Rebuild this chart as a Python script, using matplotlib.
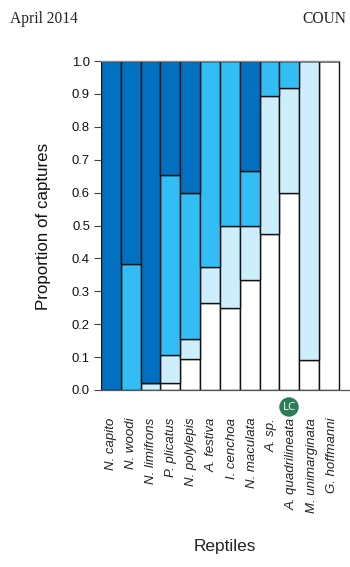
import matplotlib
matplotlib.use("Agg")
import matplotlib.pyplot as plt
from matplotlib.patches import Circle
import numpy as np

plt.rcParams['font.family'] = ['Liberation Sans', 'DejaVu Sans']

species = ["N. capito", "N. woodi", "N. limifrons", "P. plicatus", "N. polylepis", "A. festiva",
           "I. cenchoa", "N. maculata", "A. sp.", "A. quadrilineata", "M. unimarginata", "G. hoffmanni"]
white = [0, 0, 0, 0.02, 0.095, 0.265, 0.25, 0.333, 0.475, 0.60, 0.09, 1.0]
light = [0, 0, 0.02, 0.085, 0.06, 0.11, 0.25, 0.167, 0.42, 0.318, 0.91, 0]
mid   = [0, 0.382, 0, 0.55, 0.445, 0.625, 0.50, 0.167, 0.105, 0.082, 0, 0]
dark  = [1.0, 0.618, 0.98, 0.345, 0.40, 0, 0, 0.333, 0, 0, 0, 0]
yticks = [0.0, 0.1, 0.2, 0.3, 0.4, 0.5, 0.6, 0.7, 0.8, 0.9, 1.0]

W, H = 350, 567
fig = plt.figure(figsize=(W / 100, H / 100), dpi=100, facecolor="white")
left, right, top, bottom = 101, 350, 61, 390
ax = fig.add_axes([left / W, 1 - bottom / H, (right - left) / W, (bottom - top) / H])

x = np.arange(len(species))
base = np.zeros(len(species))
for vals, col in zip([white, light, mid, dark], ["#ffffff", "#cdeffb", "#33bdf5", "#0270c0"]):
    v = np.array(vals)
    ax.bar(x, v, bottom=base, width=1.0, color=col, edgecolor="#111111", linewidth=1.0, zorder=2)
    base += v

ax.set_xlim(-0.5, -0.5 + (right - left) / 19.83)
ax.set_ylim(0, 1)
ax.set_yticks(yticks)
ax.set_yticklabels([f"{t:.1f}" for t in yticks], fontsize=9.4, color="#111111")
ax.tick_params(axis="y", length=5, width=0.8, color="#444444", pad=3)
ax.set_xticks(x * 1.014)
ax.set_xticklabels(species, rotation=90, style="italic", fontsize=9.5, color="#222222", ha="center", va="top")
ax.tick_params(axis="x", length=0, pad=20)
for s in ["top", "right", "left"]:
    ax.spines[s].set_visible(False)
ax.spines["bottom"].set_color("#555555")
ax.spines["bottom"].set_linewidth(0.9)
ax.spines["bottom"].set_zorder(3)
ax.plot([-0.5, 11.5], [1, 1], color="#888888", lw=1.0, clip_on=False, zorder=3)

fig.text(43.5 / W, 1 - 226 / H, "Proportion of captures", rotation=90, ha="center", va="center", fontsize=12.2, color="#111111")
fig.text(224.5 / W, 1 - 546 / H, "Reptiles", ha="center", va="center", fontsize=12.4, color="#222222")

fig.text(10 / W, 1 - 19 / H, "April 2014", family="Liberation Serif", fontsize=11.2, ha="left", va="center", color="#222222")
fig.text(302 / W, 1 - 19 / H, "COUN", family="Liberation Serif", fontsize=11.2, ha="left", va="center", color="#222222")

fig.add_artist(Circle((289 / 100, (H - 407) / 100), 9.7 / 100, transform=fig.dpi_scale_trans,
                      facecolor="#2a7d58", edgecolor="none"))
fig.text(289 / W, 1 - 407.5 / H, "LC", family="Open Sans", fontsize=8.2, color="white", ha="center", va="center")

fig.savefig("out.png", dpi=100)
